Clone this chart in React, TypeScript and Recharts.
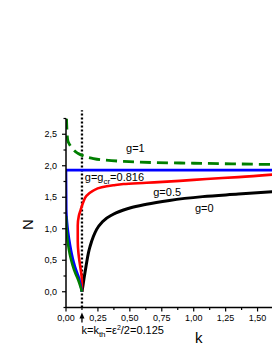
import React from "react";
import { LineChart, Line, XAxis, YAxis, ReferenceLine, ReferenceDot } from "recharts";

const font = "Arial, 'Liberation Sans', sans-serif";

// threshold k_th = eps^2/2
const kTh = 0.125;

// g = 0 (black)
const g0K = [0.125, 0.133, 0.141, 0.15, 0.163, 0.176, 0.19, 0.215, 0.24, 0.29, 0.37, 0.5, 0.63, 0.81, 1.07, 1.35, 1.62];
const g0N = [0, 0.1, 0.21, 0.32, 0.48, 0.62, 0.73, 0.88, 0.99, 1.12, 1.23, 1.33, 1.39, 1.45, 1.51, 1.55, 1.59];

// g = 0.5 (red), traced from the right end down to the threshold
const g05K = [1.62, 1.35, 1.1, 0.89, 0.63, 0.45, 0.37, 0.28, 0.21, 0.16, 0.135, 0.115, 0.1, 0.092, 0.092, 0.098, 0.11, 0.124, 0.125];
const g05N = [1.86, 1.82, 1.79, 1.76, 1.73, 1.71, 1.69, 1.66, 1.6, 1.52, 1.42, 1.3, 1.2, 1.05, 0.8, 0.6, 0.42, 0.2, 0];

// g = g_cr = 0.816 (blue)
const gCrFlatK = [0, 1.62];
const gCrFlatN = [1.93, 1.93];
const gCrDropK = [0, 0.002, 0.008, 0.016, 0.032, 0.045, 0.059, 0.078, 0.098, 0.113, 0.125];
const gCrDropN = [1.93, 1.3, 1.1, 0.95, 0.74, 0.6, 0.48, 0.35, 0.24, 0.12, 0];

// g = 1 (green)
const g1UpK = [0.004, 0.008, 0.014, 0.03, 0.055, 0.09, 0.13, 0.2, 0.3, 0.45, 0.7, 1.0, 1.3, 1.62];
const g1UpN = [2.75, 2.55, 2.4, 2.33, 2.26, 2.2, 2.16, 2.12, 2.09, 2.07, 2.05, 2.04, 2.03, 2.02];
const g1LowK = [0, 0.004, 0.012, 0.022, 0.036, 0.052, 0.072, 0.095, 0.112, 0.125];
const g1LowN = [1.2, 1.0, 0.82, 0.68, 0.54, 0.42, 0.3, 0.19, 0.09, 0];

const xMajor = [0, 0.25, 0.5, 0.75, 1.0, 1.25, 1.5];
const xMinor = [0.125, 0.375, 0.625, 0.875, 1.125, 1.375];
const yMajor = [0, 0.5, 1.0, 1.5, 2.0, 2.5];
const yMinor = [-0.25, 0.25, 0.75, 1.25, 1.75, 2.25, 2.75];

const zip = (ks: number[], ns: number[]) => ks.map((k, i) => ({ k, n: ns[i] }));
const fmt = (v: number, d: number) => v.toFixed(d).replace(".", ",");

const XTick = (props: any) => {
  const { x, y, payload } = props;
  const major = xMajor.includes(payload.value);
  const axisY = y - 7;
  return (
    <g>
      <line x1={x} x2={x} y1={axisY} y2={axisY + (major ? 4 : 2.5)} stroke="#000" strokeWidth={1.2} />
      {major && (
        <text x={x} y={y} dy="0.71em" textAnchor="middle" fontSize={9} fontFamily={font} fill="#000">
          {fmt(payload.value, 2)}
        </text>
      )}
    </g>
  );
};

const YTick = (props: any) => {
  const { x, y, payload } = props;
  const major = yMajor.includes(payload.value);
  const axisX = x + 9;
  return (
    <g>
      <line x1={axisX} x2={axisX - (major ? 4 : 2.5)} y1={y} y2={y} stroke="#000" strokeWidth={1.2} />
      {major && (
        <text x={x} y={y} dy="0.35em" textAnchor="end" fontSize={9} fontFamily={font} fill="#000">
          {fmt(payload.value, 1)}
        </text>
      )}
    </g>
  );
};

const note = (content: React.ReactNode, size = 11) => (p: any) => (
  <text x={p.cx} y={p.cy} fontSize={size} fontFamily={font} fill="#000">
    {content}
  </text>
);

const arrow = (p: any) => (
  <g>
    <path d={`M${p.cx},${p.cy} L${p.cx - 2.5},${p.cy + 6} L${p.cx + 2.5},${p.cy + 6} Z`} fill="#000" />
    <line x1={p.cx} x2={p.cx} y1={p.cy + 4} y2={p.cy + 10} stroke="#000" strokeWidth={1.3} />
  </g>
);

export default function App() {
  return (
    <div style={{ position: "fixed", left: 0, top: 0, width: 272, height: 352, background: "#fff" }}>
      <LineChart width={272} height={352} margin={{ top: 118.5, right: 0, left: 30, bottom: 14.5 }}>
        <XAxis
          type="number"
          dataKey="k"
          domain={[0, 1.613]}
          ticks={[...xMajor, ...xMinor].sort((a, b) => a - b)}
          interval={0}
          tick={<XTick />}
          tickSize={4}
          tickMargin={3}
          tickLine={false}
          axisLine={{ stroke: "#000", strokeWidth: 1.5 }}
          height={30}
          allowDataOverflow
          label={{
            content: (lp: any) => (
              <text x={lp.viewBox.x + 129} y={lp.viewBox.y + 35.5} fontSize={15} fontFamily={font} fill="#000">
                k
              </text>
            ),
          }}
        />
        <YAxis
          type="number"
          domain={[-0.25, 2.75]}
          ticks={[...yMinor, ...yMajor].sort((a, b) => a - b)}
          interval={0}
          tick={<YTick />}
          tickSize={4}
          tickMargin={5}
          tickLine={false}
          axisLine={{ stroke: "#000", strokeWidth: 1.5 }}
          width={36}
          allowDataOverflow
          label={{
            content: (lp: any) => {
              const cx = lp.viewBox.x - 3;
              const cy = lp.viewBox.y + 106;
              return (
                <text
                  x={cx}
                  y={cy}
                  transform={`rotate(-90 ${cx} ${cy})`}
                  textAnchor="middle"
                  dominantBaseline="central"
                  fontSize={15}
                  fontFamily={font}
                  fill="#000"
                >
                  N
                </text>
              );
            },
          }}
        />
        <ReferenceLine
          segment={[{ x: kTh, y: -0.25 }, { x: kTh, y: 2.88 }]}
          ifOverflow="visible"
          stroke="#000"
          strokeWidth={2.3}
          strokeDasharray="2 2"
        />
        <Line data={zip(g0K, g0N)} dataKey="n" type="monotoneX" stroke="#000" strokeWidth={3} dot={false} activeDot={false} isAnimationActive={false} />
        <Line data={zip(g05K, g05N)} dataKey="n" type="monotoneY" stroke="#ff0000" strokeWidth={2.6} dot={false} activeDot={false} isAnimationActive={false} />
        <Line data={zip(gCrFlatK, gCrFlatN)} dataKey="n" type="linear" stroke="#0000ff" strokeWidth={2.6} dot={false} activeDot={false} isAnimationActive={false} />
        <Line data={zip(gCrDropK, gCrDropN)} dataKey="n" type="monotoneY" stroke="#0000ff" strokeWidth={2.6} dot={false} activeDot={false} isAnimationActive={false} />
        <Line data={zip(g1LowK, g1LowN)} dataKey="n" type="monotoneY" stroke="#007f00" strokeWidth={2.6} dot={false} activeDot={false} isAnimationActive={false} />
        <Line data={zip(g1UpK, g1UpN)} dataKey="n" type="monotoneY" stroke="#007f00" strokeWidth={2.8} strokeDasharray="11 6" dot={false} activeDot={false} isAnimationActive={false} />
        <ReferenceDot x={0.47} y={2.22} r={0} ifOverflow="visible" shape={note("g=1")} />
        <ReferenceDot
          x={0.147}
          y={1.76}
          r={0}
          ifOverflow="visible"
          shape={note(
            <>
              g=g<tspan dy={3} fontSize={8}>cr</tspan>
              <tspan dy={-3}>=0.816</tspan>
            </>
          )}
        />
        <ReferenceDot x={0.683} y={1.52} r={0} ifOverflow="visible" shape={note("g=0.5")} />
        <ReferenceDot x={1.01} y={1.265} r={0} ifOverflow="visible" shape={note("g=0")} />
        <ReferenceDot x={kTh} y={-0.33} r={0} ifOverflow="visible" shape={arrow} />
        <ReferenceDot
          x={0.121}
          y={-0.67}
          r={0}
          ifOverflow="visible"
          shape={note(
            <>
              k=k<tspan dy={3} fontSize={8}>th</tspan>
              <tspan dy={-3}>=ε</tspan>
              <tspan dy={-4} fontSize={7}>2</tspan>
              <tspan dy={4}>/2=0.125</tspan>
            </>
          )}
        />
      </LineChart>
    </div>
  );
}
